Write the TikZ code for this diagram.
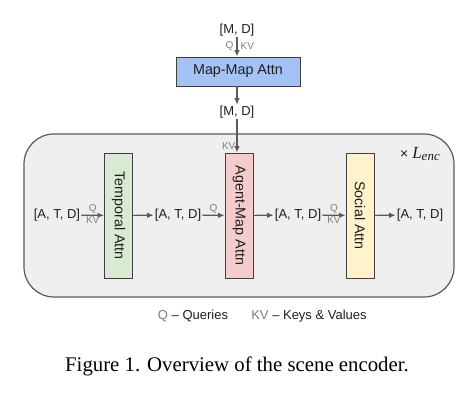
\documentclass[tikz,border=0pt]{standalone}
\usepackage{fontspec}
\setmainfont{Liberation Sans}
\newfontfamily\capfont{Liberation Serif}
\usetikzlibrary{arrows.meta}
\definecolor{mapblue}{HTML}{A4C2F4}
\definecolor{tempgreen}{HTML}{D9EAD3}
\definecolor{agentpink}{HTML}{F4CCCC}
\definecolor{socyellow}{HTML}{FFF2CC}
\definecolor{encgray}{HTML}{EFEFEF}
\definecolor{linegray}{HTML}{5A5A5A}
\definecolor{qkvgray}{HTML}{7F7F7F}
\definecolor{txtdark}{HTML}{1F1F1F}
\tikzset{
  encbox/.style={draw=linegray, line width=1.2pt, fill=encgray, rounded corners=30pt},
  attn/.style={draw=black!75, line width=0.9pt, minimum width=124pt, minimum height=29pt,
    inner sep=0pt, text=txtdark, font=\fontsize{14.3}{16}\selectfont},
  vattn/.style={draw=black!75, line width=0.9pt, minimum width=28pt, minimum height=125pt,
    inner sep=0pt, text=txtdark, font=\fontsize{14.3}{16}\selectfont},
  dimlbl/.style={inner sep=1pt, text=txtdark, font=\fontsize{13}{15}\selectfont},
  qkv/.style={inner sep=1pt, text=qkvgray, font=\fontsize{10}{11}\selectfont},
  flow/.style={draw=linegray, line width=1.2pt, -{Latex[length=6.5pt,width=5.5pt]}},
}
\begin{document}
\begin{tikzpicture}[x=1pt,y=-1pt]
    \useasboundingbox[fill=white] (0,0) rectangle (474,406);
    \draw[encbox] (24,134) rectangle (454,297);
    \node[text=txtdark, font=\fontsize{14}{16}\selectfont] (lenc) at (420,154)
        {× {\capfont\itshape\fontsize{17}{18}\selectfont L\raisebox{-2pt}{\fontsize{13}{14}\selectfont enc}}};
    % map branch
    \node[dimlbl] (md1) at (237,30) {[M, D]};
    \node[attn, fill=mapblue] (mapmap) at (238,71.5) {Map-Map Attn};
    \node[dimlbl] (md2) at (237,112) {[M, D]};
    % attention blocks
    \node[vattn, fill=tempgreen] (temporal) at (118.5,215.5) {\rotatebox{-90}{Temporal Attn}};
    \node[vattn, fill=agentpink] (agentmap) at (239,215.5) {\rotatebox{-90}{Agent-Map Attn}};
    \node[vattn, fill=socyellow] (social) at (360,215.5) {\rotatebox{-90}{Social Attn}};
    \node[dimlbl] (atd0) at (57,215) {[A, T, D]};
    \node[dimlbl] (atd1) at (178,215) {[A, T, D]};
    \node[dimlbl] (atd2) at (298,215) {[A, T, D]};
    \node[dimlbl] (atd3) at (420,215) {[A, T, D]};
    % connectors
    \draw[flow] (md1) -- (md1 |- mapmap.north)
        node[qkv, pos=0.45, left, xshift=-2pt] {Q} node[qkv, pos=0.45, right, xshift=2pt] {KV};
    \draw[flow] (md1 |- mapmap.south) -- (md2);
    \draw[flow] (md2) -- (md2 |- agentmap.north) node[qkv, pos=0.8, left] {KV};
    \draw[flow] (atd0) -- (temporal)
        node[qkv, midway, above] {Q} node[qkv, midway, below] {KV};
    \draw[flow] (temporal) -- (atd1);
    \draw[flow] (atd1) -- (agentmap) node[qkv, midway, above] {Q};
    \draw[flow] (agentmap) -- (atd2);
    \draw[flow] (atd2) -- (social)
        node[qkv, midway, above] {Q} node[qkv, midway, below] {KV};
    \draw[flow] (social) -- (atd3);
    % legend and caption
    \node[text=txtdark, font=\fontsize{13}{14}\selectfont] (legq) at (193,316)
        {\textcolor{qkvgray}{Q} -- Queries};
    \node[text=txtdark, font=\fontsize{13}{14}\selectfont] (legkv) at (309,316)
        {\textcolor{qkvgray}{KV} -- Keys \& Values};
    \node[font=\capfont\fontsize{20.8}{24}\selectfont] (caption) at (237,366)
        {Figure 1. Overview of the scene encoder.};
\end{tikzpicture}
\end{document}
